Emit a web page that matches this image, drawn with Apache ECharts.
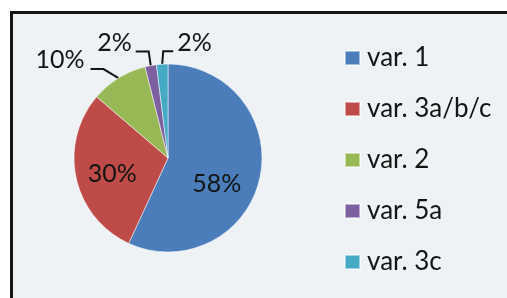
<!DOCTYPE html>
<html>
<head>
<meta charset="utf-8">
<script src="https://cdn.jsdelivr.net/npm/echarts@6/dist/echarts.min.js"></script>
<style>
	html, body {
		margin: 0;
		padding: 0;
		background: #fff;
		overflow: hidden;
	}
	.frame {
		position: absolute;
		left: 10px;
		top: 11px;
		width: 600px;
		height: 400px;
		border: 3px solid #151515;
		background: #eef2f5;
	}
	.echarts {
		position: absolute;
		left: 0;
		top: 0;
		width: 507px;
		height: 298px;
	}
</style>
</head>
<body>
<div class="frame"></div>
<div id="echarts" class="echarts"></div>
<script>
	// 图例名称和百分比
	const categories = ["var. 1", "var. 3a/b/c", "var. 2", "var. 5a", "var. 3c"];
	const values = [58, 30, 10, 2, 2];

	const insideIdx = [0, 1];

	const pieData = categories.map(function (name, i) {
		const item = { name: name, value: values[i] };
		if (insideIdx.indexOf(i) >= 0) {
			item.label = { position: "inside" };
			item.labelLine = { show: false };
		}
		return item;
	});

	// 标签微调 (相对于扇区边缘的锚点)
	function layoutLabel(params) {
		const i = params.dataIndex;
		if (i === 0) return { dy: 15 };
		if (i === 1) return { dx: -7, dy: 5 };
		const pts = params.labelLinePoints;
		if (!pts) return {};
		const x0 = pts[0][0], y0 = pts[0][1];
		if (i === 2) {
			return {
				x: x0 - 34, y: y0 - 18, align: "right", verticalAlign: "middle",
				labelLinePoints: [[x0, y0], [x0 - 15, y0 - 9], [x0 - 28, y0 - 9]]
			};
		}
		if (i === 3) {
			return {
				x: x0 - 19, y: y0 - 23, align: "right", verticalAlign: "middle",
				labelLinePoints: [[x0, y0], [x0 - 2, y0 - 14], [x0 - 15, y0 - 14]]
			};
		}
		return {
			x: x0 + 15, y: y0 - 21, align: "left", verticalAlign: "middle",
			labelLinePoints: [[x0, y0], [x0 + 1, y0 - 13], [x0 + 11, y0 - 13]]
		};
	}

	const chart = echarts.init(document.getElementById("echarts"));
	const option = {
		animation: false,
		color: ["#4a7dba", "#be4b48", "#98b856", "#7d60a0", "#46aac4"],
		textStyle: { fontFamily: "Lato" },
		legend: {
			orient: "vertical",
			left: 339,
			top: 40,
			icon: "rect",
			itemWidth: 15,
			itemHeight: 14,
			itemGap: 25,
			data: categories,
			textStyle: {
				fontFamily: "Lato",
				fontSize: 26,
				lineHeight: 26,
				color: "#141414",
				padding: [0, 0, 0, 2]
			}
		},
		series: [
			{
				type: "pie",
				center: [168, 158],
				radius: 94,
				startAngle: 90,
				clockwise: true,
				avoidLabelOverlap: false,
				itemStyle: {
					borderColor: "rgba(255,255,255,0.5)",
					borderWidth: 1
				},
				label: {
					show: true,
					position: "outside",
					formatter: "{c}%",
					fontFamily: "Lato",
					fontSize: 25,
					color: "#141414"
				},
				labelLine: {
					show: true,
					length: 10,
					length2: 10,
					lineStyle: { color: "#141414", width: 2 }
				},
				labelLayout: layoutLabel,
				emphasis: { disabled: true },
				data: pieData
			}
		]
	};
	chart.setOption(option);
</script>
</body>
</html>
